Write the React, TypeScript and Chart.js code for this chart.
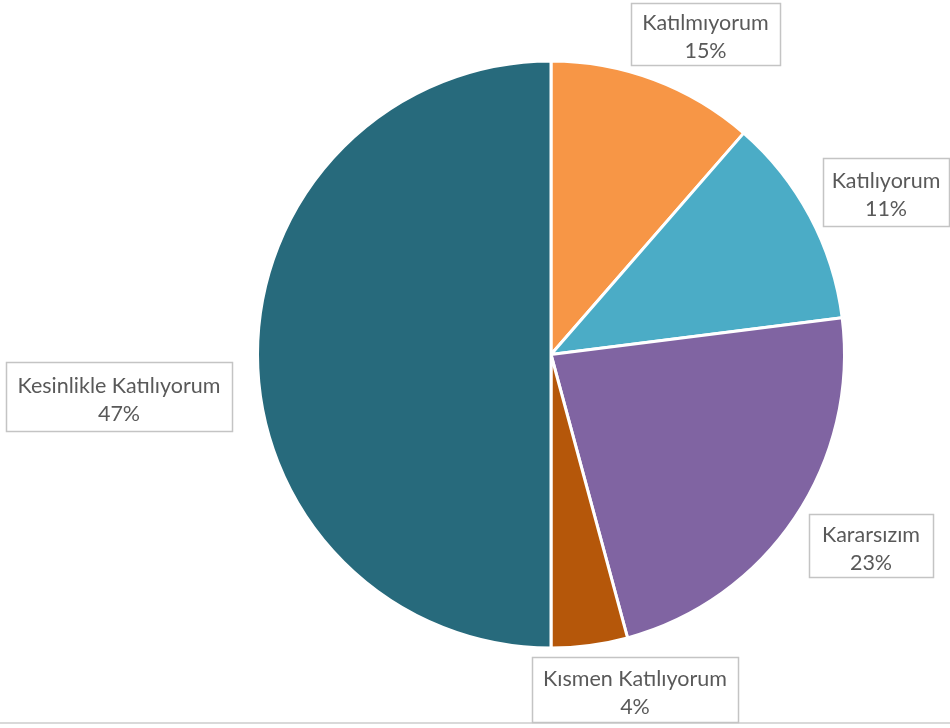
import React, { useEffect, useRef } from "react";
import { Chart, registerables } from "chart.js";

Chart.register(...registerables);

const categories = [
  "Katılmıyorum",
  "Katılıyorum",
  "Kararsızım",
  "Kısmen Katılıyorum",
  "Kesinlikle Katılıyorum",
];
// slice sizes as drawn in the reference
const sliceValues = [11.4, 11.6, 22.8, 4.2, 50.0];
// percentages printed in the labels
const percentLabels = ["15%", "11%", "23%", "4%", "47%"];
const sliceColors = ["#F79646", "#4BACC6", "#8064A2", "#B5570A", "#276A7C"];

// label box layout: [left, top, right, bottom]
const labelBoxes: [number, number, number, number][] = [
  [631, 3, 780, 65],
  [823, 158, 949, 226],
  [809, 514, 933, 577],
  [532, 657, 738, 722],
  [6, 362, 232, 431],
];

const FONT = "21.5px Lato, 'Open Sans', sans-serif";

const labelPlugin = {
  id: "boxedLabels",
  afterDraw(chart: any) {
    const ctx = chart.ctx as CanvasRenderingContext2D;
    ctx.save();
    // bottom rule
    ctx.strokeStyle = "#d9d9d9";
    ctx.lineWidth = 2;
    ctx.beginPath();
    ctx.moveTo(0, 723);
    ctx.lineTo(950, 723);
    ctx.stroke();

    const labels = chart.data.labels as string[];
    labels.forEach((lab, i) => {
      const [l, t, r, b] = labelBoxes[i];
      ctx.fillStyle = "#ffffff";
      ctx.fillRect(l, t, r - l, b - t);
      ctx.strokeStyle = "#c4c4c4";
      ctx.lineWidth = 1.5;
      ctx.strokeRect(l + 0.5, t + 0.5, r - l, b - t);
      const cx = (l + r) / 2;
      const cy = (t + b) / 2;
      ctx.fillStyle = "#595959";
      ctx.font = FONT;
      ctx.textAlign = "center";
      ctx.textBaseline = "alphabetic";
      ctx.fillText(lab, cx, cy - 4);
      ctx.fillText(percentLabels[i], cx, cy + 24);
    });
    ctx.restore();
  },
};

export default function App() {
  const ref = useRef<HTMLCanvasElement>(null);
  useEffect(() => {
    if (!ref.current) return;
    const chart = new Chart(ref.current, {
      type: "pie",
      data: {
        labels: categories,
        datasets: [
          {
            data: sliceValues,
            backgroundColor: sliceColors,
            borderColor: "#ffffff",
            borderWidth: 3,
          },
        ],
      },
      options: {
        responsive: false,
        animation: false,
        layout: { padding: { left: 256, right: 104, top: 59.5, bottom: 78.5 } },
        plugins: {
          legend: { display: false },
          tooltip: { enabled: false },
        },
      },
      plugins: [labelPlugin],
    });
    return () => chart.destroy();
  }, []);
  return (
    <div style={{ position: "fixed", left: 0, top: 0, width: 950, height: 728, background: "#fff" }}>
      <canvas ref={ref} width={950} height={728} style={{ display: "block" }} />
    </div>
  );
}
